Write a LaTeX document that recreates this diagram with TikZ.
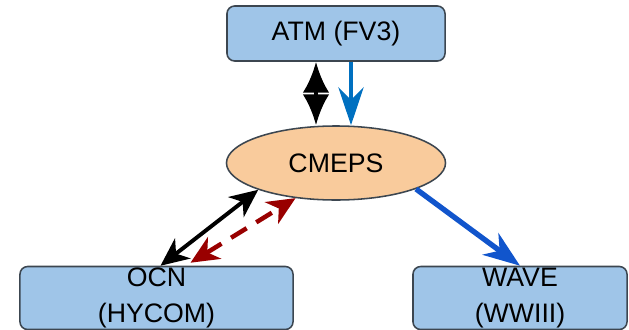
\documentclass[tikz,border=0pt]{standalone}
\usepackage{fontspec}
\setmainfont{Liberation Sans}
\definecolor{BoxBlue}{RGB}{159,197,232}
\definecolor{HubPeach}{RGB}{249,203,156}
\definecolor{EdgeGray}{RGB}{60,70,80}
\definecolor{FlowBlue}{RGB}{0,112,192}
\definecolor{WaveBlue}{RGB}{17,85,204}
\definecolor{DarkRed}{RGB}{153,0,0}
\usetikzlibrary{arrows.meta,positioning,calc,shapes.geometric}

\begin{document}
\begin{tikzpicture}[x=0.025cm,y=-0.025cm,
  comp/.style={draw=EdgeGray,line width=1.1pt,fill=BoxBlue,rounded corners=5.5pt,
    align=center,font=\fontsize{19}{25}\selectfont,inner sep=0pt},
  hub/.style={ellipse,draw=EdgeGray,line width=1.1pt,fill=HubPeach,
    minimum width=5.475cm,minimum height=1.85cm,inner sep=0pt,font=\fontsize{19}{23}\selectfont}]
\useasboundingbox (0,0) rectangle (629,329);
% components
\node[comp,minimum width=5.45cm,minimum height=1.375cm] (atm) at (336,33.5) {ATM (FV3)};
\node[hub] (cmeps) at (336,163) {CMEPS};
\node[comp,minimum width=6.825cm,minimum height=1.575cm] (ocn) at (156.5,298) {OCN\\(HYCOM)};
\node[comp,minimum width=5.35cm,minimum height=1.575cm] (wave) at (520,298) {WAVE\\(WWIII)};
% ATM <-> CMEPS
\draw[{Latex[length=22pt,width=19pt]}-{Latex[length=22pt,width=19pt]},line width=3pt]
  ($(atm.south)+(-20,0)$) -- ($(cmeps.north)+(-20,0)$);
\draw[-{Stealth[length=27pt,width=18pt,inset=9pt]},FlowBlue,line width=3pt]
  ($(atm.south)+(15,0)$) -- ($(cmeps.north)+(15,0)$);
% OCN <-> CMEPS
\draw[{Stealth[length=20pt,width=18pt,inset=6pt]}-{Stealth[length=20pt,width=18pt,inset=6pt]},line width=2.8pt]
  ($(ocn.north)+(4,0)$) -- (cmeps.199);
\draw[{Stealth[length=20pt,width=18pt,inset=6pt]}-{Stealth[length=20pt,width=18pt,inset=6pt]},DarkRed,line width=3.2pt,dash pattern=on 13pt off 8pt]
  ($(ocn.north)+(34,-3)$) -- (cmeps.221);
% CMEPS -> WAVE
\draw[-{Stealth[length=26pt,width=19pt,inset=8pt]},WaveBlue,line width=3.8pt]
  (cmeps.342) -- (wave.north);
\end{tikzpicture}
\end{document}
